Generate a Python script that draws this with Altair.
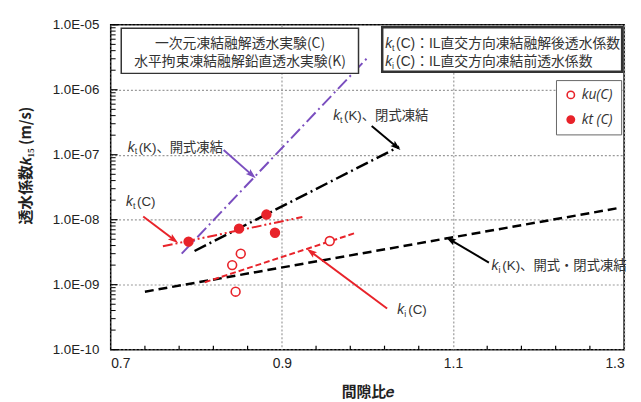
import math
import altair as alt
import pandas as pd

# ---------------- data ----------------
ku_e = [0.852, 0.842, 0.846, 0.956]
ku_k = [3.0e-9, 2.0e-9, 7.8e-10, 4.7e-9]
kt_e = [0.791, 0.850, 0.882, 0.892]
kt_k = [4.6e-9, 7.3e-9, 1.2e-8, 6.3e-9]

fit_names = ["kt_K_open", "kt_K_closed", "ki_K", "kt_C", "ki_C"]
fit_e = [[0.783, 1.000], [0.798, 1.037], [0.740, 1.292], [0.761, 0.924], [0.810, 0.986]]
fit_k = [[3.0e-9, 3.1e-6], [3.3e-9, 1.33e-7], [7.8e-10, 1.5e-8], [3.9e-9, 1.1e-8], [1.09e-9, 6.25e-9]]

ann_sub = ["t", "t", "t", "i", "i"]
ann_rest = ["(K)、閉式凍結", "(K)、開式凍結", "(C)", "(C)", "(K)、開式・閉式凍結"]
ann_e = [0.960, 0.720, 0.718, 1.035, 1.145]
ann_k = [3.9e-7, 1.29e-7, 1.89e-8, 4.0e-10, 1.91e-9]

arrow_e0 = [1.005, 0.832, 0.738, 1.023, 1.142]
arrow_k0 = [2.77e-7, 1.18e-7, 1.12e-8, 4.3e-10, 2.19e-9]
arrow_e1 = [1.034, 0.865, 0.774, 0.934, 1.097]
arrow_k1 = [1.33e-7, 4.9e-8, 4.9e-9, 3.2e-9, 4.9e-9]

box1_lines = ["一次元凍結融解透水実験(C)", "水平拘束凍結融解鉛直透水実験(K)"]
box2_subs = ["t", "i"]
box2_rest = ["(C)：IL直交方向凍結融解後透水係数", "(C)：IL直交方向凍結前透水係数"]

series_names = ["ku(C)", "kt (C)"]
x_labels = [0.7, 0.9, 1.1, 1.3]
y_labels = [1e-10, 1e-9, 1e-8, 1e-7, 1e-6, 1e-5]
x_minor = [0.74, 0.78, 0.82, 0.86, 0.94, 0.98, 1.02, 1.06, 1.14, 1.18, 1.22, 1.26]
y_minor = [m * 10.0 ** p for p in range(-10, -5) for m in range(2, 10)]

# ---------------- styles ----------------
RED = "#e8232a"
PURPLE = "#7a4ebf"
W, H = 520, 329
JP = "Noto Sans CJK JP"
LAT = "Liberation Sans"

fit_color = [PURPLE, "black", "black", RED, RED]
fit_dash = [[13, 4, 2, 4], [13, 4, 2, 4], [9, 5], [10, 3, 2, 3, 2, 3], [6, 3]]
fit_width = [2, 2.5, 2.5, 2, 2]
arrow_color = ["black", PURPLE, RED, RED, "black"]

X0, X1 = 0.7, 1.3
Y0, Y1 = 1e-10, 1e-5
XS = alt.Scale(domain=[X0, X1], nice=False, zero=False)
YS = alt.Scale(type="log", domain=[Y0, Y1], nice=False)
PX_E = W / (X1 - X0)                             # pixels per unit of e
PX_DEC = H / (math.log10(Y1) - math.log10(Y0))   # pixels per decade

main_x_axis = alt.Axis(
    values=x_labels, format=".1f", title="間隙比𝑒", grid=True, gridColor="#9a9a9a",
    gridDash=[2, 2], gridWidth=1.2, ticks=False, domain=False, labelFontSize=14,
    labelFont=LAT, labelColor="#222", labelPadding=7, titleFontSize=15, titleFont=JP,
    titleFontWeight="bold", titlePadding=14, titleColor="#222",
)
main_y_axis = alt.Axis(
    values=y_labels,
    labelExpr="'1.0E-' + pad(toString(-round(log(datum.value)/LN10)), 2, '0', 'left')",
    title="透水係数𝑘₁₅ (m/s)", grid=True, gridColor="#9a9a9a", gridDash=[2, 2],
    gridWidth=1.2, ticks=False, domain=False, labelFontSize=13.5, labelFont=LAT,
    labelColor="#222", labelPadding=12, titleFontSize=15, titleFont=JP,
    titleFontWeight="bold", titleColor="#222", titleX=-86, titleY=142,
    titleAlign="center", titleBaseline="middle", titleAngle=270,
)


def X(field="e", axis=None):
    return alt.X(f"{field}:Q", scale=XS, axis=axis)


def Y(field="k", axis=None):
    return alt.Y(f"{field}:Q", scale=YS, axis=axis)


# ---------------- tables ----------------
pts = pd.DataFrame({
    "e": ku_e + kt_e,
    "k": ku_k + kt_k,
    "series": [series_names[0]] * len(ku_e) + [series_names[1]] * len(kt_e),
})
one = pd.DataFrame({"a": [0]})

layers = []

# fitted lines
for i, name in enumerate(fit_names):
    df = pd.DataFrame({"e": fit_e[i], "k": fit_k[i]})
    layers.append(
        alt.Chart(df).mark_line(color=fit_color[i], strokeDash=fit_dash[i],
                                strokeWidth=fit_width[i]).encode(x=X(), y=Y())
    )

# arrows
ang = []
for i in range(len(arrow_e0)):
    dx = (arrow_e1[i] - arrow_e0[i]) * PX_E
    dy = (math.log10(arrow_k1[i]) - math.log10(arrow_k0[i])) * PX_DEC
    ang.append(math.degrees(math.atan2(dx, dy)) % 360)
arr = pd.DataFrame({"e": arrow_e0, "k": arrow_k0, "e2": arrow_e1, "k2": arrow_k1,
                    "col": arrow_color, "ang": ang})
layers.append(
    alt.Chart(arr).mark_rule(strokeWidth=2).encode(
        x=X(), y=Y(), x2="e2:Q", y2="k2:Q", color=alt.Color("col:N", scale=None))
)
layers.append(
    alt.Chart(arr).mark_point(shape="M0,-1L0.65,1L0,0.6L-0.65,1Z", filled=True, size=110,
                              opacity=1).encode(
        x=X("e2"), y=Y("k2"), color=alt.Color("col:N", scale=None),
        angle=alt.Angle("ang:Q", scale=None))
)

# annotation texts  (italic k + subscript + rest)
ann = pd.DataFrame({"e": ann_e, "k": ann_k, "sub": ann_sub, "rest": ann_rest})
layers.append(alt.Chart(ann).mark_text(text="k", font=LAT, fontStyle="italic", fontSize=14,
                                        align="left", baseline="middle", color="#333")
              .encode(x=X(), y=Y()))
layers.append(alt.Chart(ann).mark_text(font=LAT, fontSize=9, align="left", baseline="middle",
                                        dx=7, dy=4, color="#333")
              .encode(x=X(), y=Y(), text="sub:N"))
layers.append(alt.Chart(ann).mark_text(font=f"{LAT}, {JP}", fontSize=13.5, align="left",
                                        baseline="middle", dx=11, color="#333")
              .encode(x=X(), y=Y(), text="rest:N"))

# boxes
layers.append(alt.Chart(one).mark_rect(fill="white", stroke="#333", strokeWidth=1.5).encode(
    x=alt.value(10.7), x2=alt.value(251), y=alt.value(3.5), y2=alt.value(49.2)))
layers.append(alt.Chart(one).mark_rect(fill="white", stroke="#333", strokeWidth=2.5).encode(
    x=alt.value(275), x2=alt.value(518), y=alt.value(2.5), y2=alt.value(47.5)))
for j, line in enumerate(box1_lines):
    layers.append(alt.Chart(one).mark_text(text=line, font=JP, fontSize=14, color="#333",
                                            align="center", baseline="middle").encode(
        x=alt.value(131), y=alt.value(19.2 + 18.3 * j)))
for j in range(2):
    yy = 19.2 + 18.3 * j
    layers.append(alt.Chart(one).mark_text(text="k", font=LAT, fontStyle="italic", fontSize=14,
                                            color="#333", align="left", baseline="middle")
                  .encode(x=alt.value(278), y=alt.value(yy)))
    layers.append(alt.Chart(one).mark_text(text=box2_subs[j], font=LAT, fontSize=9,
                                            color="#333", align="left", baseline="middle")
                  .encode(x=alt.value(285), y=alt.value(yy + 4)))
    layers.append(alt.Chart(one).mark_text(text=box2_rest[j], font=f"{LAT}, {JP}", fontSize=14,
                                            color="#333", align="left", baseline="middle")
                  .encode(x=alt.value(289), y=alt.value(yy)))

# data points (carry the main axes and the legend)
layers.append(
    alt.Chart(pts).mark_point(filled=True, shape="circle", stroke=RED, strokeWidth=1.6,
                              size=80, opacity=1).encode(
        x=X(axis=main_x_axis), y=Y(axis=main_y_axis),
        fill=alt.Fill("series:N", scale=alt.Scale(domain=series_names, range=["white", RED]),
                      legend=alt.Legend(title=None, orient="none", legendX=451, legendY=56,
                                        padding=8, rowPadding=11, strokeColor="#666",
                                        fillColor="white", labelFontSize=14,
                                        labelFont="Open Sans", labelFontStyle="italic",
                                        labelColor="#333", symbolType="circle",
                                        symbolSize=55, symbolStrokeColor=RED,
                                        symbolStrokeWidth=1.6, labelOffset=4)))
)

# inward ticks on the bottom and left frame, drawn last as short stroke symbols
xt = pd.DataFrame({"e": x_minor, "k": [Y0] * len(x_minor)})
layers.append(alt.Chart(xt).mark_point(shape="M0,0L0,-1", filled=False, size=64,
                                       stroke="black", strokeWidth=1.2, opacity=1)
              .encode(x=X(), y=Y()))
yt_minor = pd.DataFrame({"k": y_minor, "e": [X0] * len(y_minor)})
layers.append(alt.Chart(yt_minor).mark_point(shape="M0,0L1,0", filled=False, size=100,
                                             stroke="black", strokeWidth=1, opacity=1)
              .encode(x=X(), y=Y()))
yt_major = pd.DataFrame({"k": y_labels, "e": [X0] * len(y_labels)})
layers.append(alt.Chart(yt_major).mark_point(shape="M0,0L1,0", filled=False, size=196,
                                             stroke="black", strokeWidth=1.2, opacity=1)
              .encode(x=X(), y=Y()))

chart = (
    alt.layer(*layers)
    .resolve_scale(x="shared", y="shared")
    .resolve_axis(x="independent", y="independent")
    .properties(width=W, height=H, background="white",
                autosize=alt.AutoSizeParams(type="none"),
                padding={"left": 104, "top": 14.5, "right": 9, "bottom": 50})
    .configure_view(stroke="black", strokeWidth=1.5)
)

chart.save("out.html", embed_options={"renderer": "svg", "actions": False})
